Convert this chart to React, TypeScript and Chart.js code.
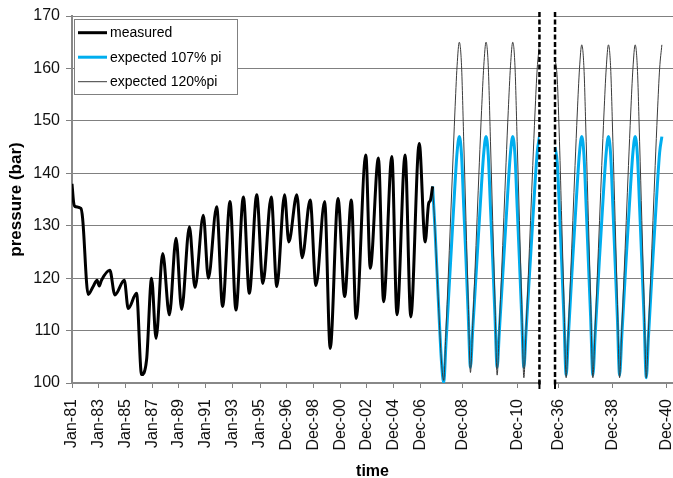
import React, { useEffect, useRef } from 'react';
import { Chart, registerables } from 'chart.js';

Chart.register(...registerables);

const FONT = '"Liberation Sans", Arial, sans-serif';

// y axis
const Y_MIN = 100;
const Y_MAX = 170;
const Y_STEP = 10;

// x axis position units: 1 unit = 1 month of the measured record (Jan-81 = 0);
// the forecast part of the axis is spread at 2 units per month.
const X_MIN = 0;
const X_MAX = 540;
const tickPositions = [0, 24, 48, 72, 96, 120, 144, 169, 193, 217, 241, 265, 289, 313, 351, 400, 437, 486, 534.5];
const tickLabels = [
  'Jan-81', 'Jan-83', 'Jan-85', 'Jan-87', 'Jan-89', 'Jan-91', 'Jan-93', 'Jan-95',
  'Dec-96', 'Dec-98', 'Dec-00', 'Dec-02', 'Dec-04', 'Dec-06', 'Dec-08', 'Dec-10',
  'Dec-36', 'Dec-38', 'Dec-40',
];

// axis break (between Dec-10 and Dec-36)
const breakStart = 420;
const breakEnd = 434;

// measured series
const measuredPos = [
  0, 1.5, 2.5, 8, 9.5, 14.5, 19, 22.5, 24.5, 26.5, 34, 38.5, 47, 50.5, 58, 62.5, 67, 71.5, 75.5,
  81.5, 87.5, 93.5, 98.5, 105.5, 110.5, 118, 122.5, 130, 135.3, 142, 147.3, 154, 159.3, 166,
  171.5, 179, 184, 191, 194.8, 202, 206.8, 214, 219.2, 227, 232, 239, 245, 251, 255.3, 264, 268,
  275.3, 280, 287.4, 292, 299.3, 304.4, 312, 317.3, 320.5, 322, 324,
];
const measuredBar = [
  138, 134.4, 133.7, 133.3, 131.5, 116.9, 118.4, 119.6, 118.5, 119.6, 121.5, 116.8, 119.6, 114.2,
  117.1, 101.6, 104.4, 120, 108.5, 124.7, 113, 127.6, 114, 129.8, 118.2, 132, 120, 133.6, 114.6,
  134.6, 113.9, 135.5, 117.1, 135.9, 119, 135.5, 118.4, 135.9, 126.9, 135.9, 123.9, 134.9, 118.6,
  134.6, 106.6, 135.2, 116.5, 134.9, 112.3, 143.5, 121.9, 142.9, 115.5, 143.2, 113, 143.5, 112.6,
  145.7, 126.9, 134.3, 134.8, 137.5,
];

// forecasts: monthly values; left part starts at position 324, right part at 434
const forecastLeftStart = 324;
const forecastRightStart = 434;
const forecastMonthWidth = 2;

const expected107Left = [
  137.5, 130, 121, 112, 104, 100,
  107.5, 115, 122.5, 130, 137.5, 144, 147, 143.5, 133.5, 123.5, 113, 103,
  110, 117, 124, 131, 138, 144, 147, 143.5, 133.5, 123.5, 113, 103,
  110, 117, 124, 131, 138, 144, 147, 143.5, 133.5, 123.5, 113, 103,
  110, 117, 124, 131, 138, 144, 147,
];
const expected107Right = [
  145, 142, 133, 123, 112.5, 101.5,
  109, 116.5, 124, 131, 138, 144, 147, 143.5, 133.5, 123, 112.5, 101.5,
  109, 116.5, 124, 131, 138, 144, 147, 143.5, 133.5, 123, 112.5, 101.5,
  109, 116.5, 124, 131, 138, 144, 147, 143.5, 133.5, 123, 112.5, 101,
  109, 116.5, 124, 131, 138, 144, 147,
];
const expected120Left = [
  137.5, 130, 121, 112, 104, 100.5,
  110, 120, 130.5, 141, 151.5, 160.5, 165, 160.5, 146, 131, 116, 102,
  111, 121, 131.5, 142, 152, 160.5, 165, 160.5, 146, 131, 116, 101.5,
  111, 121, 131.5, 142, 152, 160.5, 165, 160.5, 146, 131, 116, 101,
  110.5, 120.5, 131, 141.5, 151.5, 160, 164.5,
];
const expected120Right = [
  162, 158, 146, 131, 116, 101,
  110.5, 120.5, 131, 141.5, 151.5, 160, 164.5, 160, 146, 131, 116, 101,
  110.5, 120.5, 131, 141.5, 151.5, 160, 164.5, 160, 146, 131, 116, 101,
  110.5, 120.5, 131, 141.5, 151.5, 160, 164.5, 160, 146, 131, 116, 101,
  110.5, 120.5, 131, 141.5, 151.5, 160, 164.5,
];

const seriesLabels = ['measured', 'expected 107% pi', 'expected 120%pi'];

function forecastPoints(left: number[], right: number[]) {
  const pts: { x: number; y: number | null }[] = [];
  left.forEach((v, i) => pts.push({ x: forecastLeftStart + i * forecastMonthWidth, y: v }));
  pts.push({ x: (breakStart + breakEnd) / 2, y: null });
  right.forEach((v, i) => pts.push({ x: forecastRightStart + i * forecastMonthWidth, y: v }));
  return pts;
}

const axisBreakPlugin = {
  id: 'axisBreak',
  afterDraw(chart: any) {
    const { ctx, chartArea } = chart;
    const xs = chart.scales.x;
    const a = xs.getPixelForValue(breakStart);
    const b = xs.getPixelForValue(breakEnd);
    const { top, bottom } = chartArea;
    ctx.save();
    ctx.fillStyle = '#ffffff';
    ctx.fillRect(a, top - 3, b - a, bottom - top + 12);
    ctx.strokeStyle = '#000';
    ctx.lineWidth = 2;
    [a, b].forEach((px: number) => {
      ctx.beginPath();
      ctx.moveTo(px, bottom - 2);
      ctx.lineTo(px, bottom + 6);
      ctx.stroke();
    });
    ctx.lineWidth = 2.5;
    ctx.setLineDash([5, 2.5]);
    [a, b].forEach((px: number) => {
      ctx.beginPath();
      ctx.moveTo(px, top - 4);
      ctx.lineTo(px, bottom + 2);
      ctx.stroke();
    });
    ctx.restore();
  },
};

const insideLegendPlugin = {
  id: 'insideLegend',
  afterDraw(chart: any) {
    const { ctx, chartArea } = chart;
    const x0 = chartArea.left + 2;
    const y0 = chartArea.top + 3;
    const w = 163;
    const h = 75;
    ctx.save();
    ctx.fillStyle = '#ffffff';
    ctx.fillRect(x0, y0, w, h);
    ctx.strokeStyle = '#808080';
    ctx.lineWidth = 1;
    ctx.strokeRect(x0 + 0.5, y0 + 0.5, w, h);
    chart.data.datasets.forEach((ds: any, i: number) => {
      const cy = y0 + 13.7 + i * 24.5;
      ctx.beginPath();
      ctx.strokeStyle = ds.borderColor;
      ctx.lineWidth = ds.borderWidth;
      ctx.moveTo(x0 + 4, cy);
      ctx.lineTo(x0 + 33, cy);
      ctx.stroke();
      ctx.fillStyle = '#000';
      ctx.font = `14px ${FONT}`;
      ctx.textBaseline = 'middle';
      ctx.textAlign = 'left';
      ctx.fillText(ds.label, x0 + 36, cy + 0.5);
    });
    ctx.restore();
  },
};

export default function App() {
  const canvasRef = useRef<HTMLCanvasElement | null>(null);

  useEffect(() => {
    if (!canvasRef.current) return;
    const chart = new Chart(canvasRef.current, {
      type: 'line',
      data: {
        datasets: [
          {
            label: seriesLabels[0],
            data: measuredPos.map((x, i) => ({ x, y: measuredBar[i] })),
            borderColor: '#000000',
            borderWidth: 3,
            pointRadius: 0,
            cubicInterpolationMode: 'monotone',
            order: 0,
          },
          {
            label: seriesLabels[1],
            data: forecastPoints(expected107Left, expected107Right),
            borderColor: '#00AEEF',
            borderWidth: 3,
            pointRadius: 0,
            cubicInterpolationMode: 'monotone',
            spanGaps: false,
            order: 2,
          },
          {
            label: seriesLabels[2],
            data: forecastPoints(expected120Left, expected120Right),
            borderColor: '#3a3a3a',
            borderWidth: 1,
            pointRadius: 0,
            cubicInterpolationMode: 'monotone',
            spanGaps: false,
            order: 1,
          },
        ] as any,
      },
      options: {
        animation: false,
        responsive: false,
        parsing: false as any,
        normalized: true,
        layout: { padding: { top: 16, left: 0, right: 0, bottom: 0 } },
        plugins: {
          legend: { display: false },
          tooltip: { enabled: false },
        },
        scales: {
          x: {
            type: 'linear',
            min: X_MIN,
            max: X_MAX,
            afterBuildTicks: (s: any) => {
              s.ticks = tickPositions.map((v) => ({ value: v }));
            },
            afterFit: (s: any) => {
              s.height = 95;
              s.paddingLeft = 0;
              s.paddingRight = 0;
            },
            ticks: {
              autoSkip: false,
              maxRotation: 90,
              minRotation: 90,
              padding: 11,
              color: '#111',
              font: { family: FONT, size: 16 },
              callback: (_v: any, i: number) => tickLabels[i],
            },
            grid: { drawOnChartArea: false, drawTicks: true, tickLength: 5, tickColor: '#808080' },
            border: { display: true, color: '#888888', width: 2 },
            title: {
              display: true,
              text: 'time',
              color: '#000',
              font: { family: FONT, size: 16, weight: 'bold', lineHeight: 0.8 },
              padding: { top: 0, bottom: 0 },
            },
          },
          y: {
            type: 'linear',
            min: Y_MIN,
            max: Y_MAX,
            afterFit: (s: any) => {
              s.width = 72;
              s.paddingTop = 0;
              s.paddingBottom = 0;
            },
            ticks: {
              stepSize: Y_STEP,
              padding: 6,
              color: '#111',
              font: { family: FONT, size: 16 },
            },
            grid: { color: '#808080', lineWidth: 1, tickLength: 6, tickColor: '#808080' },
            border: { display: true, color: '#888888', width: 2 },
            title: {
              display: true,
              text: 'pressure (bar)',
              color: '#000',
              font: { family: FONT, size: 17, weight: 'bold', lineHeight: 1.2 },
              padding: { top: 6, bottom: 0 },
            },
          },
        },
      } as any,
      plugins: [axisBreakPlugin, insideLegendPlugin],
    });
    return () => chart.destroy();
  }, []);

  return (
    <canvas
      ref={canvasRef}
      width={673}
      height={478}
      style={{ position: 'fixed', left: 0, top: 0, width: 673, height: 478, background: '#fff' }}
    />
  );
}
